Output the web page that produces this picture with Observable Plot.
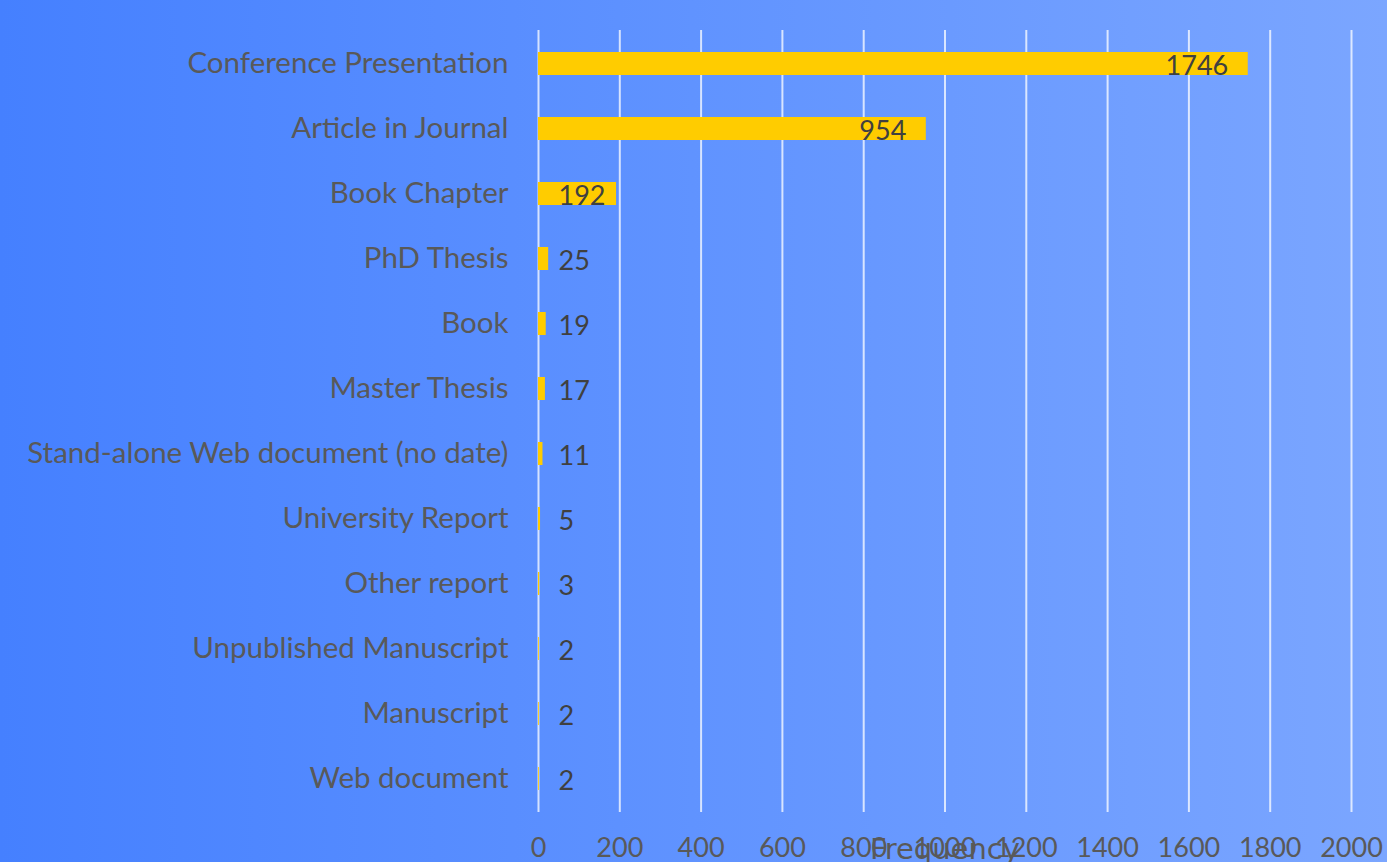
<!DOCTYPE html>
<html>
<head>
<meta charset="utf-8">
<script src="https://cdn.jsdelivr.net/npm/d3@7"></script>
<script src="https://cdn.jsdelivr.net/npm/@observablehq/plot@0.6"></script>
<style>
  html, body { margin: 0; padding: 0; }
  body { width: 1387px; height: 862px; overflow: hidden; background: linear-gradient(to right, #4580ff, #7ba6ff); }
  #chart svg { display: block; }
</style>
</head>
<body>
<div id="chart"></div>
<script>
const categories = [
  "Conference Presentation",
  "Article in Journal",
  "Book Chapter",
  "PhD Thesis",
  "Book",
  "Master Thesis",
  "Stand-alone Web document (no date)",
  "University Report",
  "Other report",
  "Unpublished Manuscript",
  "Manuscript",
  "Web document"
];
const counts = [1746, 954, 192, 25, 19, 17, 11, 5, 3, 2, 2, 2];
const xTicks = [0, 200, 400, 600, 800, 1000, 1200, 1400, 1600, 1800, 2000];

const data = categories.map((c, i) => ({category: c, count: counts[i]}));
const inside = data.filter(d => d.count >= 500);
const outside = data.filter(d => d.count < 500);

const font = "Lato, 'Open Sans', sans-serif";

const chart = Plot.plot({
  width: 1387,
  height: 862,
  marginLeft: 538,
  marginRight: 36,
  marginTop: 30,
  marginBottom: 50,
  style: {background: "transparent", fontFamily: font, fontSize: "27px", color: "#595959", overflow: "visible"},
  x: {domain: [0, 2000], ticks: xTicks, label: null},
  y: {domain: categories, paddingInner: 0.64, paddingOuter: 0.32, label: null},
  marks: [
    Plot.gridX(xTicks, {stroke: "#ffffff", strokeOpacity: 0.75, strokeWidth: 2}),
    Plot.barX(data, {y: "category", x: "count", fill: "#ffcc00"}),
    Plot.axisY({tickSize: 0, tickPadding: 30, fontSize: 29.5, fill: "#595959", label: null}),
    Plot.axisX({ticks: xTicks, tickSize: 0, tickPadding: 25, fontSize: 27, fill: "#595959", label: null, tickFormat: d => String(d)}),
    Plot.text(inside, {y: "category", x: "count", text: d => String(d.count), textAnchor: "end", dx: -20, dy: 2, fill: "#404040", fontSize: 27}),
    Plot.text(outside, {y: "category", x: 0, text: d => String(d.count), textAnchor: "start", dx: 20, dy: 2, fill: "#404040", fontSize: 27}),
    Plot.text(["Frequency"], {frameAnchor: "bottom", dy: 46, text: d => d, fill: "#595959", fontSize: 29, fontFamily: "'DejaVu Sans', sans-serif"})
  ]
});
document.getElementById("chart").appendChild(chart);
</script>
</body>
</html>
